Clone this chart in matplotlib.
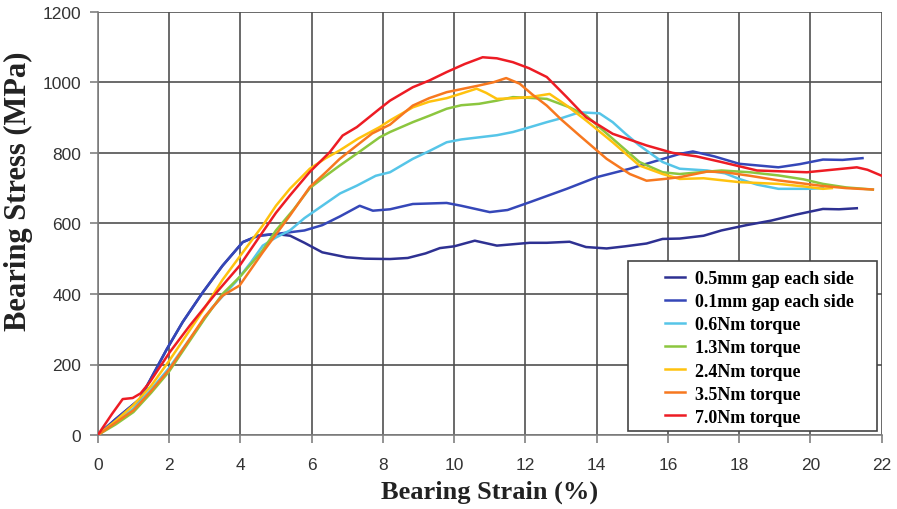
"""
Bearing stress vs bearing strain for the bolted joint test series.
"""

# %% imports
import matplotlib
matplotlib.use('Agg')
import matplotlib.pyplot as plt
from matplotlib.patches import Rectangle


# %% test data (strain in %, stress in MPa)
gap05_x = [0, 0.5, 1.18, 1.94, 2.38, 2.95, 3.5, 4.07, 4.5, 5.0, 5.4, 5.8, 6.3, 6.98, 7.5, 8.2, 8.7,
           9.2, 9.6, 10.0, 10.58, 11.2, 12.12, 12.6, 13.24, 13.7, 14.28, 14.8, 15.4, 15.85, 16.33,
           17.0, 17.5, 18.2, 18.9, 19.6, 20.35, 20.8, 21.3]
gap05_y = [0, 45, 102, 244, 320, 405, 480, 547, 565, 570, 565, 545, 518, 504, 500, 499, 502,
           515, 530, 535, 551, 537, 545, 545, 548, 533, 529, 535, 543, 556, 557,
           565, 580, 595, 608, 625, 641, 640, 643]

gap01_x = [0, 0.5, 1.18, 1.94, 2.38, 2.95, 3.5, 4.07, 4.5, 5.0, 5.4, 5.8, 6.3, 6.8, 7.35, 7.72,
           8.2, 8.84, 9.79, 10.2, 11.0, 11.5, 12.12, 13.16, 14.0, 14.93, 15.6, 16.33, 16.7, 17.3,
           18.0, 19.1, 19.7, 20.35, 20.9, 21.46]
gap01_y = [0, 45, 102, 244, 320, 405, 480, 547, 565, 570, 575, 580, 595, 620, 650, 636,
           640, 655, 658, 650, 632, 638, 660, 698, 731, 755, 775, 797, 804, 790,
           769, 759, 768, 781, 780, 785]

tq06_x = [0, 0.5, 1.0, 1.5, 2.0, 2.58, 3.2, 3.87, 4.3, 4.63, 5.0, 5.39, 5.8, 6.3, 6.8, 7.27, 7.8,
          8.2, 8.84, 9.3, 9.79, 10.2, 10.7, 11.2, 11.65, 12.1, 12.6, 13.0, 13.52, 14.08, 14.45,
          14.8, 15.2, 15.85, 16.33, 17.1, 17.6, 18.0, 18.5, 19.1, 19.9, 20.35]
tq06_y = [0, 35, 75, 130, 190, 272, 360, 434, 490, 537, 560, 580, 615, 650, 685, 707, 735,
          745, 783, 805, 830, 838, 844, 850, 859, 872, 887, 898, 915, 912, 887,
          855, 821, 774, 755, 750, 742, 726, 710, 698, 698, 700]

tq13_x = [0, 0.5, 1.0, 1.5, 2.0, 2.5, 3.0, 3.5, 4.0, 4.6, 5.0, 5.5, 5.95, 6.4, 6.79, 7.3, 7.91,
          8.2, 8.84, 9.3, 9.79, 10.2, 10.7, 11.2, 11.65, 12.1, 12.6, 13.24, 13.7, 14.45, 15.2,
          15.85, 16.33, 17.5, 18.3, 19.1, 19.8, 20.35, 21.0, 21.75]
tq13_y = [0, 30, 65, 120, 180, 255, 330, 400, 450, 520, 580, 640, 700, 735, 764, 800, 844,
          859, 887, 905, 925, 935, 939, 948, 958, 956, 953, 929, 906, 840, 774,
          745, 740, 750, 745, 736, 725, 712, 702, 696]

tq24_x = [0, 0.5, 1.0, 1.5, 2.0, 2.5, 3.0, 3.5, 4.07, 4.63, 5.0, 5.39, 5.95, 6.4, 6.79, 7.3,
          7.91, 8.2, 8.84, 9.3, 9.79, 10.2, 10.63, 10.9, 11.2, 11.7, 12.12, 12.68, 13.16, 13.7,
          14.45, 15.2, 15.85, 16.33, 17.0, 18.0, 19.1, 19.8, 20.35, 20.6]
tq24_y = [0, 40, 85, 140, 210, 285, 360, 440, 518, 594, 650, 698, 755, 785, 807, 840,
          873, 892, 929, 945, 955, 968, 982, 970, 953, 955, 958, 967, 934, 892,
          830, 764, 740, 726, 728, 717, 712, 705, 698, 700]

tq35_x = [0, 0.5, 1.0, 1.5, 2.0, 2.5, 3.0, 3.5, 3.98, 4.63, 5.39, 5.95, 6.4, 6.79, 7.27, 7.7,
          8.2, 8.84, 9.3, 9.79, 10.7, 11.1, 11.46, 11.84, 12.2, 12.6, 13.0, 13.52, 14.28, 14.93,
          15.4, 15.9, 16.33, 17.1, 17.6, 18.3, 19.1, 20.35, 21.0, 21.75]
tq35_y = [0, 35, 70, 125, 185, 260, 335, 395, 424, 518, 622, 703, 745, 783, 821, 855,
          880, 934, 955, 972, 991, 1000, 1012, 996, 965, 934, 895, 849, 783, 740,
          721, 726, 731, 747, 745, 735, 722, 706, 700, 696]

tq70_x = [0, 0.4, 0.7, 0.98, 1.2, 1.46, 2.02, 2.58, 3.34, 3.98, 4.63, 5.0, 5.39, 5.95, 6.51,
          6.87, 7.27, 7.91, 8.2, 8.84, 9.3, 9.79, 10.3, 10.8, 11.2, 11.65, 12.1, 12.6, 13.16,
          13.7, 14.45, 15.4, 16.13, 16.8, 17.5, 18.5, 19.9, 20.6, 21.3, 21.6, 22.0]
tq70_y = [0, 60, 102, 105, 118, 150, 235, 310, 405, 480, 576, 630, 679, 746, 802,
          849, 873, 925, 948, 986, 1005, 1029, 1052, 1071, 1068, 1057, 1040, 1015, 958,
          901, 854, 821, 800, 790, 774, 750, 745, 752, 759, 752, 735]

labels = ['0.5mm gap each side', '0.1mm gap each side', '0.6Nm torque', '1.3Nm torque',
          '2.4Nm torque', '3.5Nm torque', '7.0Nm torque']
colors = ['#2e3192', '#3547b8', '#56c5e8', '#8cc63f', '#ffc20e', '#f7781f', '#ed1c24']


# %% plot curves
fig = plt.figure(figsize=(8.97, 5.10), dpi=100)
ax = fig.add_axes([0.109, 0.145, 0.874, 0.830])

series = [(gap05_x, gap05_y), (gap01_x, gap01_y), (tq06_x, tq06_y), (tq13_x, tq13_y),
          (tq24_x, tq24_y), (tq35_x, tq35_y), (tq70_x, tq70_y)]
for (xs, ys), lab, col in zip(series, labels, colors):
    ax.plot(xs, ys, color=col, lw=1.8, label=lab, zorder=3)

ax.set_xlim(0, 22)
ax.set_ylim(0, 1200)
ax.set_xticks(range(0, 23, 2))
ax.set_yticks(range(0, 1201, 200))
ax.grid(True, color='#505050', lw=1.2)
ax.set_axisbelow(True)

for side in ['top', 'right']:
    ax.spines[side].set_visible(False)
for side in ['left', 'bottom']:
    ax.spines[side].set_color('#808080')
    ax.spines[side].set_linewidth(1.2)

ax.tick_params(colors='#808080', length=6, width=1.2)
ax.tick_params(axis='x', pad=10)
ax.tick_params(axis='y', pad=6)
for lbl in ax.get_xticklabels() + ax.get_yticklabels():
    lbl.set_family('Liberation Sans')
    lbl.set_fontsize(12.5)
    lbl.set_color('#333333')

ax.set_xlabel('Bearing Strain (%)', family='Liberation Serif', weight='bold',
              fontsize=19, color='#222222', labelpad=5)
ax.set_ylabel('Bearing Stress (MPa)', family='Liberation Serif', weight='bold',
              fontsize=22, color='#222222')
ax.yaxis.set_label_coords(-0.083, 0.578)

# legend: white box with the entries inset from its left edge
box = Rectangle((0.676, 0.0095), 0.318, 0.4015, transform=ax.transAxes, facecolor='white',
                edgecolor='#444444', lw=1.2, zorder=4)
ax.add_patch(box)
leg = ax.legend(loc='upper left', bbox_to_anchor=(0.7232, 0.390), frameon=False,
                handlelength=1.1, handletextpad=0.55, labelspacing=0.34, borderpad=0,
                borderaxespad=0,
                prop={'family': 'Liberation Serif', 'weight': 'bold', 'size': 13})
leg.set_zorder(5)

fig.savefig('out.png', dpi=100)
